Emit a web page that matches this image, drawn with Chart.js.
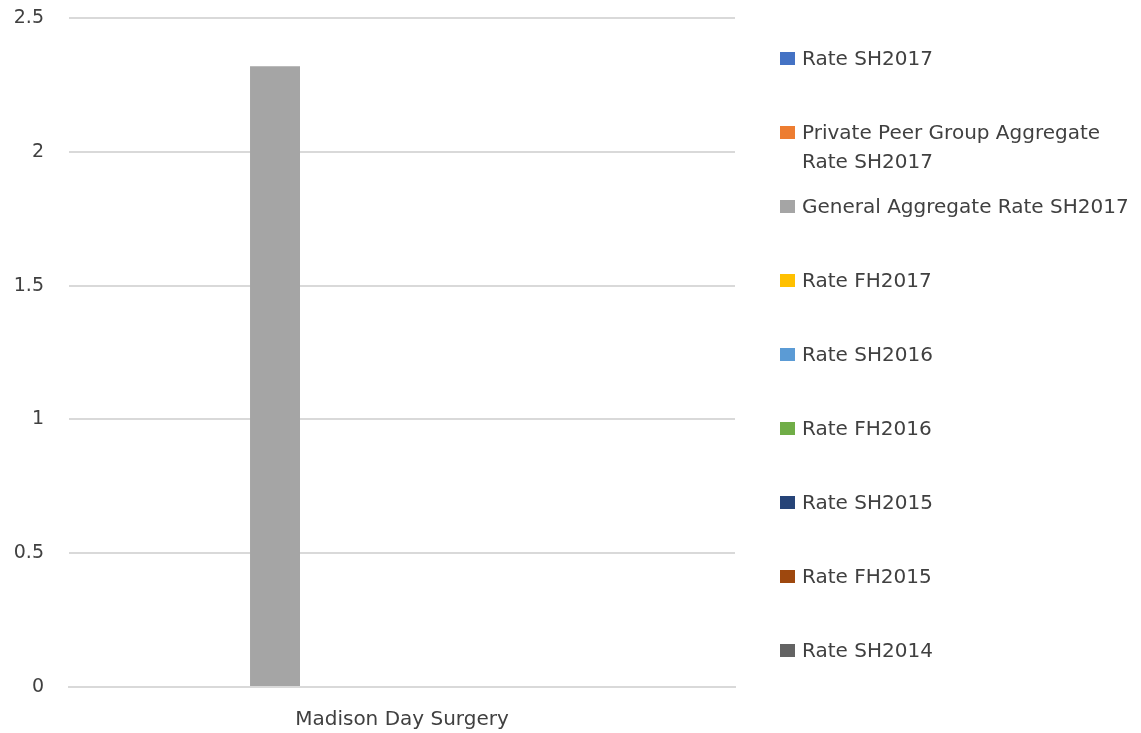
<!DOCTYPE html>
<html>
<head>
<meta charset="utf-8">
<script src="https://cdn.jsdelivr.net/npm/chart.js@4.4.1/dist/chart.umd.min.js"></script>
<style>
  html, body { margin: 0; padding: 0; background: #fff; }
  #wrap { position: relative; width: 1141px; height: 733px; }
  #legend { position: absolute; left: 0; top: 0; font-family: "DejaVu Sans", sans-serif; font-size: 20px; color: #404040; }
  .item { position: absolute; left: 780px; width: 361px; display: flex; align-items: flex-start; line-height: 29px; }
  .box { width: 15px; height: 13px; margin-top: 8px; margin-right: 7px; flex: none; }
  .txt { width: 336px; }
</style>
</head>
<body>
<div id="wrap">
  <canvas id="c" width="1141" height="733"></canvas>
  <div id="legend"></div>
</div>
<script>
const categories = ['Madison Day Surgery'];

const seriesNames = [
  'Rate SH2017',
  'Private Peer Group Aggregate Rate SH2017',
  'General Aggregate Rate SH2017',
  'Rate FH2017',
  'Rate SH2016',
  'Rate FH2016',
  'Rate SH2015',
  'Rate FH2015',
  'Rate SH2014'
];

const seriesValues = [
  [null],
  [null],
  [2.32],
  [null],
  [null],
  [null],
  [null],
  [null],
  [null]
];

const seriesColors = ['#4472C4', '#ED7D31', '#A5A5A5', '#FFC000', '#5B9BD5', '#70AD47', '#264478', '#9E480E', '#636363'];

const yTicks = [0, 0.5, 1, 1.5, 2, 2.5];

const datasets = seriesNames.map((name, i) => ({
  label: name,
  data: seriesValues[i],
  backgroundColor: seriesColors[i],
  borderWidth: 0
}));

const chart = new Chart(document.getElementById('c'), {
  type: 'bar',
  data: { labels: categories, datasets: datasets },
  options: {
    responsive: false,
    animation: false,
    categoryPercentage: 0.858,
    barPercentage: 0.787,
    layout: { padding: { top: 18, right: 406, bottom: 0, left: 0 } },
    plugins: {
      legend: { display: false },
      tooltip: { enabled: false }
    },
    scales: {
      x: {
        grid: { display: false },
        border: { display: true, color: '#d9d9d9', width: 2 },
        ticks: { color: '#404040', padding: 13, font: { family: 'DejaVu Sans', size: 20 } },
        afterFit: s => { s.height = 46; }
      },
      y: {
        min: 0,
        max: 2.5,
        afterBuildTicks: s => { s.ticks = yTicks.map(v => ({ value: v })); },
        grid: { color: '#d9d9d9', lineWidth: 2, drawTicks: false },
        border: { display: false },
        ticks: {
          color: '#404040',
          padding: 25,
          font: { family: 'DejaVu Sans', size: 19 },
          callback: v => String(v)
        },
        afterFit: s => {
          s.width = 69;
          // tick padding is horizontal only here, keep it out of the top/bottom room
          s.paddingTop = 11;
          s.paddingBottom = 11;
        }
      }
    }
  }
});

// legend drawn as html, one row per series
const legend = document.getElementById('legend');
chart.data.datasets.forEach((ds, i) => {
  const item = document.createElement('div');
  item.className = 'item';
  item.style.top = (44 + 74 * i) + 'px';
  const box = document.createElement('span');
  box.className = 'box';
  box.style.background = ds.backgroundColor;
  const txt = document.createElement('span');
  txt.className = 'txt';
  txt.textContent = ds.label;
  item.appendChild(box);
  item.appendChild(txt);
  legend.appendChild(item);
});
</script>
</body>
</html>
